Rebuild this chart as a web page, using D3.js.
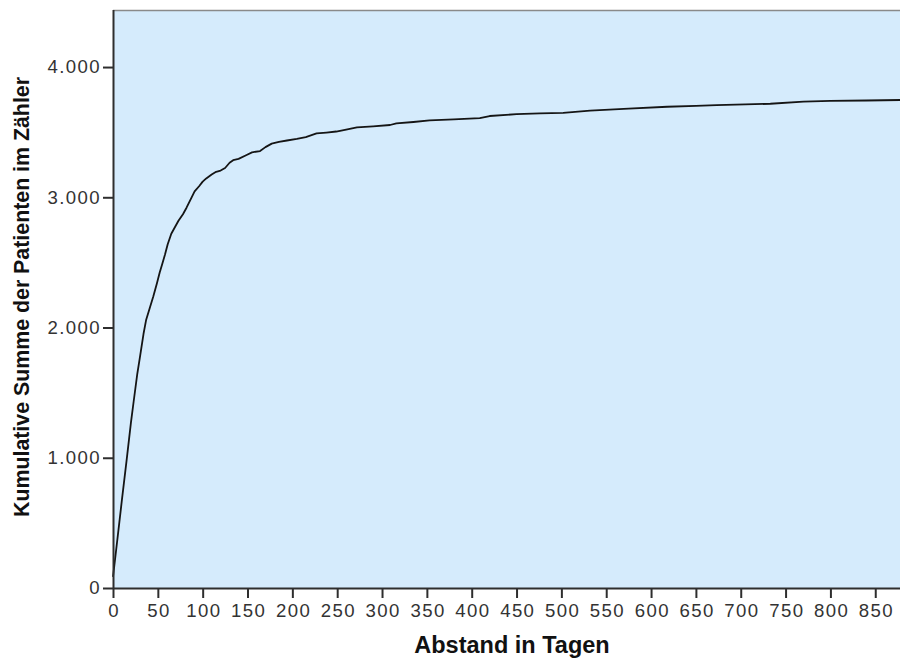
<!DOCTYPE html>
<html>
<head>
<meta charset="utf-8">
<script src="https://cdn.jsdelivr.net/npm/d3@7"></script>
<style>
  html, body { margin: 0; padding: 0; background: #ffffff; }
  svg { display: block; }
</style>
</head>
<body>
<svg id="chart" width="900" height="660"></svg>
<script>
// Cumulative number of patients by interval in days
const days = [0, 5, 10, 15, 20, 23, 27, 30, 34, 37, 41, 45, 49, 52, 55, 58, 61, 65, 69, 73,
  78, 82, 87, 91, 96, 100, 104, 110, 115, 120, 125, 130, 134, 140, 149, 155, 164, 170, 177, 185,
  194, 205, 215, 227, 238, 249, 260, 272, 290, 309, 316, 335, 353, 380, 409, 420, 450, 476, 502, 532,
  575, 618, 650, 673, 705, 733, 770, 800, 840, 878];
const cumulative = [85, 380, 680, 970, 1270, 1430, 1640, 1770, 1950, 2060, 2150, 2240, 2340, 2420, 2490, 2560, 2640, 2720, 2770, 2820,
  2870, 2920, 2990, 3045, 3085, 3120, 3145, 3175, 3196, 3205, 3225, 3265, 3285, 3295, 3325, 3345, 3355, 3385, 3412, 3425,
  3436, 3448, 3462, 3490, 3497, 3505, 3520, 3537, 3545, 3555, 3568, 3578, 3590, 3598, 3608, 3624, 3638, 3645, 3648, 3665,
  3680, 3695, 3702, 3708, 3713, 3718, 3734, 3740, 3743, 3747];

const xTicks = [0, 50, 100, 150, 200, 250, 300, 350, 400, 450, 500, 550, 600, 650, 700, 750, 800, 850];
const yTicks = [0, 1000, 2000, 3000, 4000];
const xTitle = "Abstand in Tagen";
const yTitle = "Kumulative Summe der Patienten im Zähler";

const svg = d3.select("#chart");
const plotLeft = 113, plotRight = 900, plotTop = 10, plotBottom = 588;

const x = d3.scaleLinear().domain([0, 877.6]).range([plotLeft, plotRight]);
const y = d3.scaleLinear().domain([0, 4438]).range([plotBottom, plotTop]);

const de = d3.formatLocale({ decimal: ",", thousands: ".", grouping: [3], currency: ["", " €"] });
const fmt = de.format(",d");

// plot background
svg.append("rect")
  .attr("x", plotLeft).attr("y", plotTop)
  .attr("width", plotRight - plotLeft).attr("height", plotBottom - plotTop)
  .attr("fill", "#d5ebfc");

// top frame line
svg.append("line")
  .attr("x1", plotLeft).attr("x2", plotRight).attr("y1", plotTop + 0.5).attr("y2", plotTop + 0.5)
  .attr("stroke", "#8a8a8a").attr("stroke-width", 1.5);

// cumulative curve
const line = d3.line()
  .x((d, i) => x(days[i]))
  .y(d => y(d))
  .curve(d3.curveLinear);

svg.append("path")
  .datum(cumulative)
  .attr("d", line)
  .attr("fill", "none")
  .attr("stroke", "#151515")
  .attr("stroke-width", 1.8)
  .attr("stroke-linejoin", "round");

// axes
const xAxis = d3.axisBottom(x).tickValues(xTicks).tickFormat(d3.format("d"))
  .tickSize(10).tickPadding(6).tickSizeOuter(0);
const yAxis = d3.axisLeft(y).tickValues(yTicks).tickFormat(fmt)
  .tickSize(10).tickPadding(2).tickSizeOuter(0);

const gx = svg.append("g").attr("transform", `translate(0,${plotBottom})`).call(xAxis);
const gy = svg.append("g").attr("transform", `translate(${plotLeft},0)`).call(yAxis);

[gx, gy].forEach(g => {
  g.select(".domain").attr("stroke", "#2e2e2e").attr("stroke-width", 2);
  g.selectAll(".tick line").attr("stroke", "#2e2e2e").attr("stroke-width", 2);
  g.selectAll(".tick text")
    .attr("fill", "#333")
    .style("font-family", "'Liberation Sans', Arial, sans-serif")
    .style("font-size", "18.6px")
    .style("letter-spacing", "1.4px");
});
gx.selectAll(".tick text").attr("dx", "0.7");
gy.select(".domain").attr("d", `M0.5,${plotBottom}V${plotTop}`);
gx.select(".domain").attr("d", `M${plotLeft},0.5H${plotRight}`);

// axis titles
svg.append("text")
  .attr("x", 512).attr("y", 653)
  .attr("text-anchor", "middle")
  .style("font-family", "'Liberation Sans', Arial, sans-serif")
  .style("font-weight", "bold")
  .style("font-size", "23.5px")
  .attr("fill", "#111")
  .text(xTitle);

svg.append("text")
  .attr("transform", "translate(28.5,297) rotate(-90)")
  .attr("text-anchor", "middle")
  .style("font-family", "'Liberation Sans', Arial, sans-serif")
  .style("font-weight", "bold")
  .style("font-size", "22px")
  .attr("textLength", 440)
  .attr("lengthAdjust", "spacingAndGlyphs")
  .attr("fill", "#111")
  .text(yTitle);
</script>
</body>
</html>
